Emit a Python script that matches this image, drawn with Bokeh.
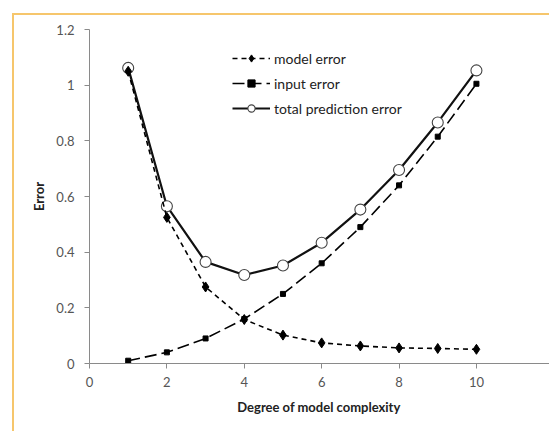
from bokeh.plotting import figure
from bokeh.models import Legend, LegendItem, FixedTicker, NumeralTickFormatter, Range1d
from bokeh.embed import file_html
from bokeh.resources import INLINE

complexity = [1, 2, 3, 4, 5, 6, 7, 8, 9, 10]
model_error = [1.05, 0.525, 0.275, 0.158, 0.102, 0.074, 0.063, 0.056, 0.054, 0.051]
input_error = [0.01, 0.04, 0.09, 0.16, 0.25, 0.36, 0.49, 0.64, 0.815, 1.005]
total_error = [1.062, 0.565, 0.365, 0.318, 0.352, 0.434, 0.553, 0.695, 0.866, 1.053]
x_ticks = [0, 2, 4, 6, 8, 10, 12]
y_ticks = [0, 0.2, 0.4, 0.6, 0.8, 1.0, 1.2]

FONT = "Lato"
ORANGE = "#F6C66C"

p = figure(width=537, height=418, output_backend="svg", toolbar_location=None,
           x_range=Range1d(0, 11.94), y_range=Range1d(0, 1.2),
           min_border_left=75, min_border_top=14, min_border_right=0, min_border_bottom=70,
           styles={"margin-left": "12px", "margin-top": "13px",
                   "border-top": f"2px solid {ORANGE}", "border-left": f"2px solid {ORANGE}"})
p.outline_line_color = None
p.xgrid.grid_line_color = None
p.ygrid.grid_line_color = None

for ax in (p.xaxis[0], p.yaxis[0]):
    ax.axis_line_color = "#8a8a8a"
    ax.major_tick_line_color = "#8a8a8a"
    ax.major_tick_out = 5
    ax.major_tick_in = 0
    ax.minor_tick_line_color = None
    ax.major_label_text_font = FONT
    ax.major_label_text_font_size = "13px"
    ax.major_label_text_color = "#555555"
    ax.axis_label_text_font = FONT
    ax.axis_label_text_font_size = "13px"
    ax.axis_label_text_font_style = "bold"
    ax.axis_label_text_color = "#222222"

p.xaxis.ticker = FixedTicker(ticks=x_ticks)
p.yaxis.ticker = FixedTicker(ticks=y_ticks)
p.yaxis.formatter = NumeralTickFormatter(format="0.[0]")
p.xaxis.major_label_standoff = 8
p.yaxis.major_label_standoff = 10
p.xaxis.axis_label = "Degree of  model complexity"
p.yaxis.axis_label = "Error"
p.xaxis.axis_label_standoff = 9
p.yaxis.axis_label_standoff = 6

# total prediction error
tl = p.line(complexity, total_error, line_color="#111111", line_width=2.2)
tc = p.scatter(complexity, total_error, marker="circle", size=11,
               fill_color="white", line_color="#444444", line_width=1.1)
# model error
ml = p.line(complexity, model_error, line_color="black", line_width=1.6, line_dash="5 4")
mm = p.scatter(complexity, model_error, marker="diamond", size=10,
               fill_color="black", line_color="black")
# input error
il = p.line(complexity, input_error, line_color="black", line_width=1.6, line_dash="12 5")
im = p.scatter(complexity, input_error, marker="square", size=5,
               fill_color="black", line_color="black")

legend = Legend(items=[
    LegendItem(label="model error", renderers=[ml, mm]),
    LegendItem(label="input error", renderers=[il, im]),
    LegendItem(label="total prediction error", renderers=[tl, tc]),
], location=(143, 245))
legend.border_line_color = None
legend.background_fill_alpha = 0
legend.padding = 0
legend.margin = 0
legend.spacing = 5
legend.glyph_width = 38
legend.glyph_height = 18
legend.label_height = 20
legend.label_standoff = 4
legend.label_text_font = FONT
legend.label_text_font_size = "14px"
legend.label_text_color = "#222222"
p.add_layout(legend)

open("out.html", "w").write(file_html(p, INLINE))
